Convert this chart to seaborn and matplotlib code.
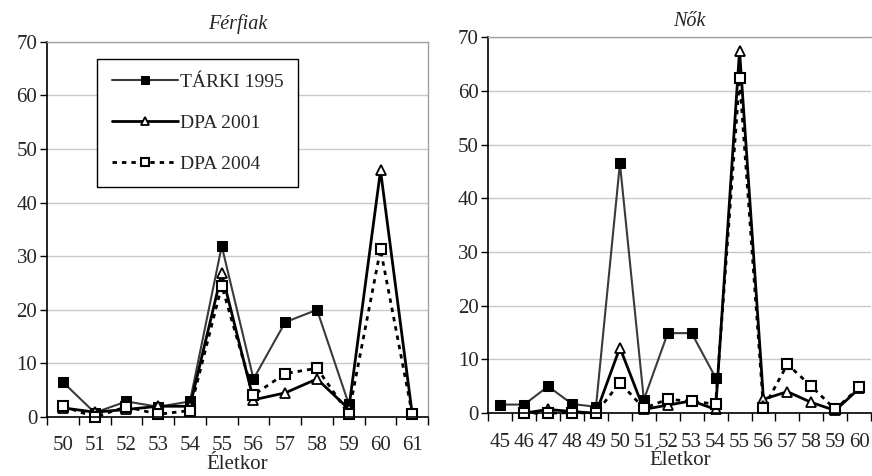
import numpy as np
import pandas as pd
import matplotlib
matplotlib.use("Agg")
import matplotlib.pyplot as plt
from matplotlib.ticker import FixedLocator, NullFormatter, FixedFormatter
import seaborn as sns

# ---- data ----
series_names = ["TÁRKI 1995", "DPA 2001", "DPA 2004"]

ages_men = [50, 51, 52, 53, 54, 55, 56, 57, 58, 59, 60, 61]
tarki_men = [6.5, 0.8, 2.9, 1.9, 2.9, 31.9, 7.1, 17.7, 20.0, 2.4, None, None]
dpa01_men = [1.7, 0.9, 1.4, 2.0, 2.0, 26.8, 3.2, 4.5, 7.1, 1.5, 46.0, 0.5]
dpa04_men = [2.0, 0.0, 1.9, 0.5, 1.2, 24.5, 4.1, 8.1, 9.1, 0.6, 31.3, 0.5]

ages_women = [45, 46, 47, 48, 49, 50, 51, 52, 53, 54, 55, 56, 57, 58, 59, 60]
tarki_women = [1.6, 1.6, 5.0, 1.7, 1.2, 46.5, 2.5, 14.9, 14.9, 6.6,
               None, None, None, None, None, None]
dpa01_women = [None, 0.0, 0.7, 0.3, 0.0, 12.2, 0.7, 1.5, 2.3, 0.7,
               67.5, 2.6, 4.0, 2.0, 0.5, 4.6]
dpa04_women = [None, 0.0, 0.0, 0.1, 0.0, 5.7, 0.9, 2.6, 2.2, 1.7,
               62.3, 0.9, 9.1, 5.0, 0.7, 4.8]

titles = ["Férfiak", "Nők"]
xlabel = "Életkor"
yticks = [0, 10, 20, 30, 40, 50, 60, 70]

# ---- style ----
sns.set_style("white")
plt.rcParams["font.family"] = ["Liberation Serif", "DejaVu Serif"]
FS = 15

fig = plt.figure(figsize=(8.72, 4.76), dpi=100)
ax1 = fig.add_axes([0.054, 0.124, 0.437, 0.788])
ax2 = fig.add_axes([0.560, 0.132, 0.439, 0.790])

styles = [
    dict(color="#3a3a3a", linewidth=1.5, marker="s", markersize=7.5,
         markerfacecolor="black", markeredgecolor="black"),
    dict(color="black", linewidth=2.0, marker="^", markersize=7.5,
         markerfacecolor="white", markeredgecolor="black", markeredgewidth=1.3),
    dict(color="black", linewidth=2.0, marker="s", markersize=7.5,
         markerfacecolor="white", markeredgecolor="black", markeredgewidth=1.5,
         dashes=(1.6, 1.8)),
]


def draw(ax, ages, vals_list, title, pad, tpad, tx=0.5):
    for name, vals, st in zip(series_names, vals_list, styles):
        df = pd.DataFrame({"age": ages, "v": vals}).dropna()
        st = dict(st)
        dashes = st.pop("dashes", None)
        sns.lineplot(data=df, x="age", y="v", ax=ax, label=name,
                     estimator=None, **st)
        if dashes is not None:
            ax.lines[-1].set_dashes(dashes)
    ax.set_xlim(ages[0] - 0.5, ages[-1] + 0.5)
    ax.set_ylim(0, 70)
    ax.set_yticks(yticks)
    ax.yaxis.grid(True, color="#c8c8c8", linewidth=1.0)
    ax.set_axisbelow(True)
    # major ticks at category boundaries, labels on minor ticks at centres
    bounds = [a - 0.5 for a in ages] + [ages[-1] + 0.5]
    ax.xaxis.set_major_locator(FixedLocator(bounds))
    ax.xaxis.set_major_formatter(NullFormatter())
    ax.xaxis.set_minor_locator(FixedLocator(ages))
    ax.xaxis.set_minor_formatter(FixedFormatter([str(a) for a in ages]))
    ax.tick_params(axis="x", which="major", direction="out", length=6,
                   width=1, color="black", bottom=True)
    ax.tick_params(axis="x", which="minor", length=0, pad=pad,
                   labelsize=FS)
    ax.tick_params(axis="y", direction="out", length=5, width=1,
                   color="black", left=True, labelsize=FS, pad=2)
    ax.set_xlabel(xlabel, fontsize=FS, labelpad=-0.5)
    ax.set_ylabel("")
    ax.set_title(title, fontstyle="italic", fontsize=14.5, pad=tpad, x=tx)
    for s in ["left", "bottom"]:
        ax.spines[s].set_color("black")
        ax.spines[s].set_linewidth(1.2)
    for s in ["top", "right"]:
        ax.spines[s].set_color("#a0a0a0")
        ax.spines[s].set_linewidth(1.0)
    for ln in ax.lines:
        ln.set_clip_on(False)


draw(ax1, ages_men, [tarki_men, dpa01_men, dpa04_men], titles[0], pad=14, tpad=9)
draw(ax2, ages_women, [tarki_women, dpa01_women, dpa04_women], titles[1],
     pad=14, tpad=8, tx=0.525)
ax2.spines["right"].set_visible(False)
ax2.get_legend().remove()

handles, labels = ax1.get_legend_handles_labels()
ax1.get_legend().remove()
leg = ax1.legend(handles, labels, loc="upper left",
                 bbox_to_anchor=(0.131, 0.955), frameon=True, fancybox=False,
                 edgecolor="black", framealpha=1, fontsize=14,
                 handlelength=3.4, handletextpad=0.1, labelspacing=1.2,
                 borderpad=0.75, borderaxespad=0, markerscale=0.75)
leg.get_frame().set_linewidth(1.0)

fig.savefig("out.png", dpi=100)
